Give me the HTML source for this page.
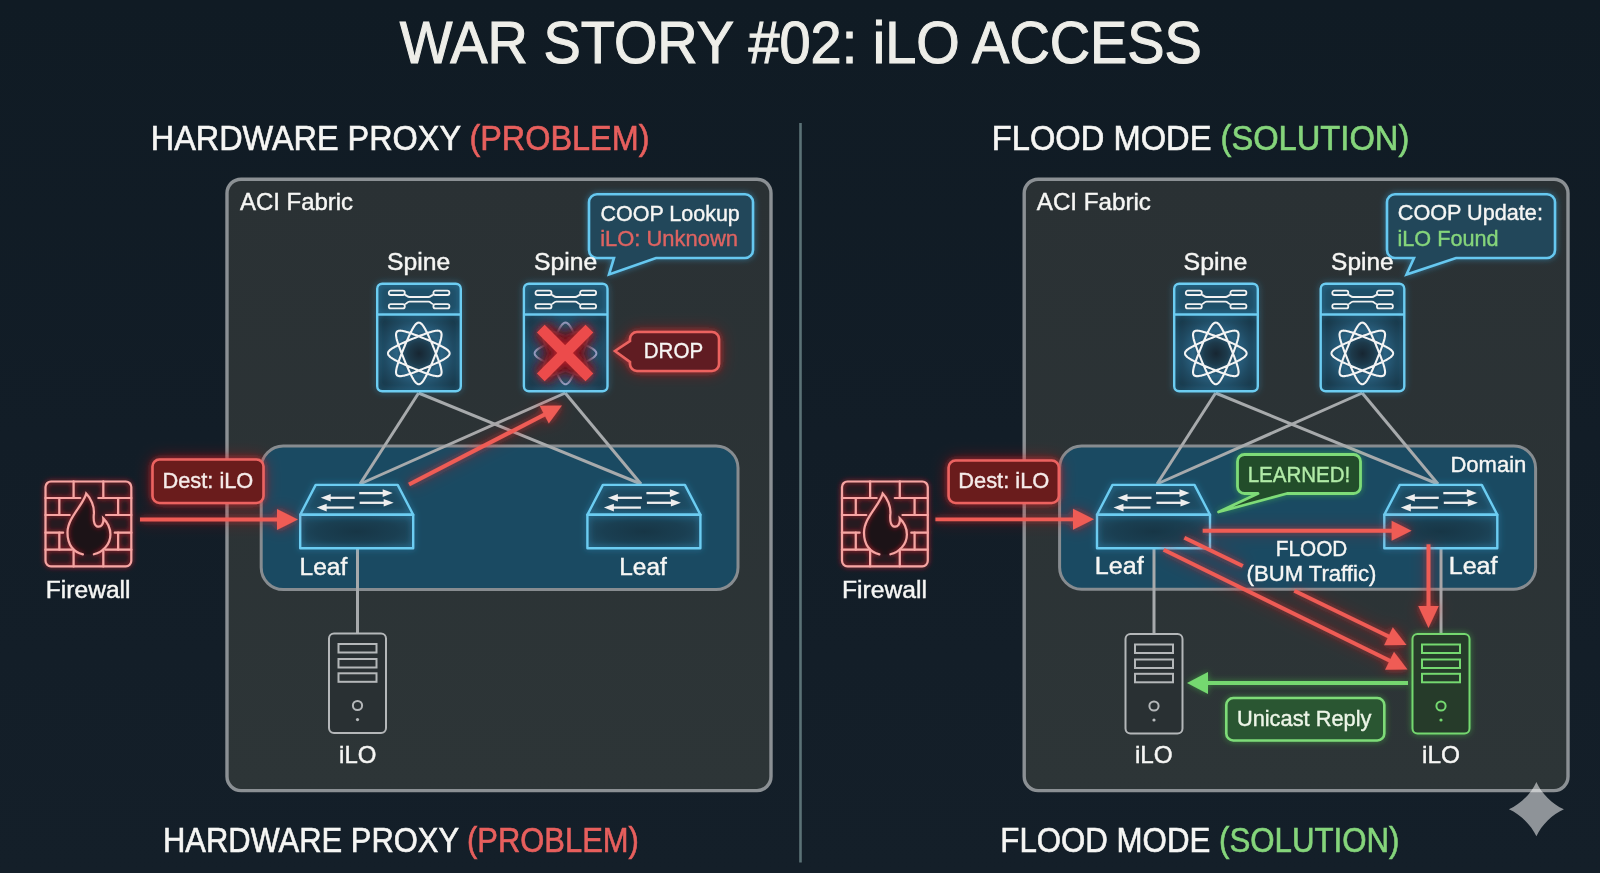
<!DOCTYPE html>
<html><head><meta charset="utf-8">
<style>
html,body{margin:0;padding:0;background:#0f1b24;}
body{width:1600px;height:873px;overflow:hidden;}
svg{display:block;font-family:"Liberation Sans",sans-serif;}
</style></head><body>
<svg width="1600" height="873" viewBox="0 0 1600 873">
<defs>
  <linearGradient id="bg" x1="0" y1="0" x2="0" y2="1">
    <stop offset="0" stop-color="#101b24"/>
    <stop offset="0.5" stop-color="#121d27"/>
    <stop offset="1" stop-color="#141f29"/>
  </linearGradient>
  <linearGradient id="fab" x1="0" y1="0" x2="0" y2="1">
    <stop offset="0" stop-color="#2a3134"/>
    <stop offset="1" stop-color="#2d3537"/>
  </linearGradient>
  <radialGradient id="spineFill" gradientUnits="userSpaceOnUse" cx="43" cy="71" r="50">
    <stop offset="0" stop-color="#172632"/>
    <stop offset="0.22" stop-color="#1d3a4b"/>
    <stop offset="0.45" stop-color="#2a6282"/>
    <stop offset="0.7" stop-color="#1f4a62"/>
    <stop offset="1" stop-color="#173444"/>
  </radialGradient>
  <filter id="glowR" filterUnits="userSpaceOnUse" x="-50" y="-50" width="1700" height="973">
    <feGaussianBlur in="SourceAlpha" stdDeviation="3" result="b"/>
    <feFlood flood-color="#ff2a2a" flood-opacity="0.55"/>
    <feComposite in2="b" operator="in" result="g"/>
    <feGaussianBlur in="SourceAlpha" stdDeviation="8" result="b2"/>
    <feFlood flood-color="#e02030" flood-opacity="0.45"/>
    <feComposite in2="b2" operator="in" result="g2"/>
    <feMerge><feMergeNode in="g2"/><feMergeNode in="g"/><feMergeNode in="SourceGraphic"/></feMerge>
  </filter>
  <filter id="glowR2" filterUnits="userSpaceOnUse" x="-50" y="-50" width="1700" height="973">
    <feGaussianBlur in="SourceAlpha" stdDeviation="2.4" result="b"/>
    <feFlood flood-color="#d0202c" flood-opacity="1"/>
    <feComposite in2="b" operator="in" result="g"/>
    <feMerge><feMergeNode in="g"/><feMergeNode in="SourceGraphic"/></feMerge>
  </filter>
  <filter id="glowC" filterUnits="userSpaceOnUse" x="-50" y="-50" width="1700" height="973">
    <feGaussianBlur in="SourceAlpha" stdDeviation="3" result="b"/>
    <feFlood flood-color="#3ab4f0" flood-opacity="0.5"/>
    <feComposite in2="b" operator="in" result="g"/>
    <feMerge><feMergeNode in="g"/><feMergeNode in="SourceGraphic"/></feMerge>
  </filter>
  <filter id="glowG" filterUnits="userSpaceOnUse" x="-50" y="-50" width="1700" height="973">
    <feGaussianBlur in="SourceAlpha" stdDeviation="3" result="b"/>
    <feFlood flood-color="#4ee04a" flood-opacity="0.45"/>
    <feComposite in2="b" operator="in" result="g"/>
    <feMerge><feMergeNode in="g"/><feMergeNode in="SourceGraphic"/></feMerge>
  </filter>
  <filter id="glowB" filterUnits="userSpaceOnUse" x="-50" y="-50" width="1700" height="973">
    <feGaussianBlur in="SourceGraphic" stdDeviation="3" result="b"/>
    <feMerge><feMergeNode in="b"/><feMergeNode in="SourceGraphic"/></feMerge>
  </filter>
  <radialGradient id="leafFront" cx="50%" cy="50%" r="60%">
    <stop offset="0" stop-color="#173646"/>
    <stop offset="0.6" stop-color="#1a3f52"/>
    <stop offset="1" stop-color="#1f4c63"/>
  </radialGradient>
  <radialGradient id="leafTop" cx="50%" cy="55%" r="60%">
    <stop offset="0" stop-color="#1a4258"/>
    <stop offset="1" stop-color="#1f5068"/>
  </radialGradient>
  <filter id="blur4" filterUnits="userSpaceOnUse" x="-50" y="-50" width="1700" height="973"><feGaussianBlur stdDeviation="4"/></filter>
  <filter id="blur6" filterUnits="userSpaceOnUse" x="-50" y="-50" width="1700" height="973"><feGaussianBlur stdDeviation="6"/></filter>
  <filter id="glowS" filterUnits="userSpaceOnUse" x="-50" y="-50" width="1700" height="973">
    <feGaussianBlur in="SourceGraphic" stdDeviation="2" result="b"/>
    <feMerge><feMergeNode in="b"/><feMergeNode in="SourceGraphic"/></feMerge>
  </filter>

  <!-- Spine: 86x110 -->
  <g id="spineBox">
    <rect x="1.2" y="1.2" width="83.6" height="107.6" rx="5" fill="url(#spineFill)"/>
    <rect x="1.2" y="1.2" width="83.6" height="30" rx="5" fill="#1f4f68"/>
    <g fill="none" stroke="#6ccdf2" stroke-width="2.4" filter="url(#glowC)">
      <rect x="1.2" y="1.2" width="83.6" height="107.6" rx="5"/>
      <path d="M1.2,32 H84.8"/>
    </g>
    <g fill="none" stroke="#f2f2f2" stroke-width="1.8">
      <rect x="12.8" y="8.2" width="16" height="4.3" rx="2"/>
      <rect x="57.4" y="8.2" width="16" height="4.3" rx="2"/>
      <path d="M28.8,12.5 C31,12.5 31,14.5 33.5,14.5 L52.5,14.5 C55,14.5 55,12.5 57.4,12.5"/>
      <rect x="12.8" y="21.6" width="16" height="4.3" rx="2"/>
      <rect x="57.4" y="21.6" width="16" height="4.3" rx="2"/>
      <path d="M28.8,21.6 C31,21.6 31,19.2 33.5,19.2 L52.5,19.2 C55,19.2 55,21.6 57.4,21.6"/>
    </g>
  </g>
  <path id="atom" d="M21.8,-21.8L22.1,-21.3L22.4,-20.8L22.6,-20.2L22.7,-19.5L22.8,-18.7L22.7,-17.8L22.6,-16.8L22.4,-15.8L22.2,-14.7L21.9,-13.5L21.5,-12.2L21.1,-10.9L20.7,-9.5L20.1,-8.0L19.6,-6.5L19.0,-4.9L18.4,-3.3L17.8,-1.6L17.1,0.1L16.4,1.8L15.7,3.5L15.0,5.2L14.3,6.9L13.6,8.7L12.9,10.4L12.1,12.1L11.4,13.7L10.7,15.3L10.0,16.9L9.3,18.4L8.6,19.9L7.9,21.3L7.2,22.6L6.6,23.9L5.9,25.0L5.3,26.1L4.7,27.0L4.1,27.9L3.5,28.7L2.9,29.3L2.3,29.8L1.7,30.3L1.1,30.6L0.6,30.7L0.0,30.8L-0.6,30.7L-1.1,30.6L-1.7,30.3L-2.3,29.8L-2.9,29.3L-3.5,28.7L-4.1,27.9L-4.7,27.0L-5.3,26.1L-5.9,25.0L-6.6,23.9L-7.2,22.6L-7.9,21.3L-8.6,19.9L-9.3,18.4L-10.0,16.9L-10.7,15.3L-11.4,13.7L-12.1,12.1L-12.9,10.4L-13.6,8.7L-14.3,6.9L-15.0,5.2L-15.7,3.5L-16.4,1.8L-17.1,0.1L-17.8,-1.6L-18.4,-3.3L-19.0,-4.9L-19.6,-6.5L-20.1,-8.0L-20.7,-9.5L-21.1,-10.9L-21.5,-12.2L-21.9,-13.5L-22.2,-14.7L-22.4,-15.8L-22.6,-16.8L-22.7,-17.8L-22.8,-18.7L-22.7,-19.5L-22.6,-20.2L-22.4,-20.8L-22.1,-21.3L-21.8,-21.8L-21.3,-22.1L-20.8,-22.4L-20.2,-22.6L-19.5,-22.7L-18.7,-22.8L-17.8,-22.7L-16.8,-22.6L-15.8,-22.4L-14.7,-22.2L-13.5,-21.9L-12.2,-21.5L-10.9,-21.1L-9.5,-20.7L-8.0,-20.1L-6.5,-19.6L-4.9,-19.0L-3.3,-18.4L-1.6,-17.8L0.1,-17.1L1.8,-16.4L3.5,-15.7L5.2,-15.0L6.9,-14.3L8.7,-13.6L10.4,-12.9L12.1,-12.1L13.7,-11.4L15.3,-10.7L16.9,-10.0L18.4,-9.3L19.9,-8.6L21.3,-7.9L22.6,-7.2L23.9,-6.6L25.0,-5.9L26.1,-5.3L27.0,-4.7L27.9,-4.1L28.7,-3.5L29.3,-2.9L29.8,-2.3L30.3,-1.7L30.6,-1.1L30.7,-0.6L30.8,-0.0L30.7,0.6L30.6,1.1L30.3,1.7L29.8,2.3L29.3,2.9L28.7,3.5L27.9,4.1L27.0,4.7L26.1,5.3L25.0,5.9L23.9,6.6L22.6,7.2L21.3,7.9L19.9,8.6L18.4,9.3L16.9,10.0L15.3,10.7L13.7,11.4L12.1,12.1L10.4,12.9L8.7,13.6L6.9,14.3L5.2,15.0L3.5,15.7L1.8,16.4L0.1,17.1L-1.6,17.8L-3.3,18.4L-4.9,19.0L-6.5,19.6L-8.0,20.1L-9.5,20.7L-10.9,21.1L-12.2,21.5L-13.5,21.9L-14.7,22.2L-15.8,22.4L-16.8,22.6L-17.8,22.7L-18.7,22.8L-19.5,22.7L-20.2,22.6L-20.8,22.4L-21.3,22.1L-21.8,21.8L-22.1,21.3L-22.4,20.8L-22.6,20.2L-22.7,19.5L-22.8,18.7L-22.7,17.8L-22.6,16.8L-22.4,15.8L-22.2,14.7L-21.9,13.5L-21.5,12.2L-21.1,10.9L-20.7,9.5L-20.1,8.0L-19.6,6.5L-19.0,4.9L-18.4,3.3L-17.8,1.6L-17.1,-0.1L-16.4,-1.8L-15.7,-3.5L-15.0,-5.2L-14.3,-6.9L-13.6,-8.7L-12.9,-10.4L-12.1,-12.1L-11.4,-13.7L-10.7,-15.3L-10.0,-16.9L-9.3,-18.4L-8.6,-19.9L-7.9,-21.3L-7.2,-22.6L-6.6,-23.9L-5.9,-25.0L-5.3,-26.1L-4.7,-27.0L-4.1,-27.9L-3.5,-28.7L-2.9,-29.3L-2.3,-29.8L-1.7,-30.3L-1.1,-30.6L-0.6,-30.7L0.0,-30.8L0.6,-30.7L1.1,-30.6L1.7,-30.3L2.3,-29.8L2.9,-29.3L3.5,-28.7L4.1,-27.9L4.7,-27.0L5.3,-26.1L5.9,-25.0L6.6,-23.9L7.2,-22.6L7.9,-21.3L8.6,-19.9L9.3,-18.4L10.0,-16.9L10.7,-15.3L11.4,-13.7L12.1,-12.1L12.9,-10.4L13.6,-8.7L14.3,-6.9L15.0,-5.2L15.7,-3.5L16.4,-1.8L17.1,-0.1L17.8,1.6L18.4,3.3L19.0,4.9L19.6,6.5L20.1,8.0L20.7,9.5L21.1,10.9L21.5,12.2L21.9,13.5L22.2,14.7L22.4,15.8L22.6,16.8L22.7,17.8L22.8,18.7L22.7,19.5L22.6,20.2L22.4,20.8L22.1,21.3L21.8,21.8L21.3,22.1L20.8,22.4L20.2,22.6L19.5,22.7L18.7,22.8L17.8,22.7L16.8,22.6L15.8,22.4L14.7,22.2L13.5,21.9L12.2,21.5L10.9,21.1L9.5,20.7L8.0,20.1L6.5,19.6L4.9,19.0L3.3,18.4L1.6,17.8L-0.1,17.1L-1.8,16.4L-3.5,15.7L-5.2,15.0L-6.9,14.3L-8.7,13.6L-10.4,12.9L-12.1,12.1L-13.7,11.4L-15.3,10.7L-16.9,10.0L-18.4,9.3L-19.9,8.6L-21.3,7.9L-22.6,7.2L-23.9,6.6L-25.0,5.9L-26.1,5.3L-27.0,4.7L-27.9,4.1L-28.7,3.5L-29.3,2.9L-29.8,2.3L-30.3,1.7L-30.6,1.1L-30.7,0.6L-30.8,0.0L-30.7,-0.6L-30.6,-1.1L-30.3,-1.7L-29.8,-2.3L-29.3,-2.9L-28.7,-3.5L-27.9,-4.1L-27.0,-4.7L-26.1,-5.3L-25.0,-5.9L-23.9,-6.6L-22.6,-7.2L-21.3,-7.9L-19.9,-8.6L-18.4,-9.3L-16.9,-10.0L-15.3,-10.7L-13.7,-11.4L-12.1,-12.1L-10.4,-12.9L-8.7,-13.6L-6.9,-14.3L-5.2,-15.0L-3.5,-15.7L-1.8,-16.4L-0.1,-17.1L1.6,-17.8L3.3,-18.4L4.9,-19.0L6.5,-19.6L8.0,-20.1L9.5,-20.7L10.9,-21.1L12.2,-21.5L13.5,-21.9L14.7,-22.2L15.8,-22.4L16.8,-22.6L17.8,-22.7L18.7,-22.8L19.5,-22.7L20.2,-22.6L20.8,-22.4L21.3,-22.1Z"/>

  <!-- Leaf: origin at front-left-top corner; width 113 -->
  <g id="leaf">
    <path d="M0,0 L15.5,-29.9 L97.5,-29.9 L113,0 Z" fill="url(#leafTop)"/>
    <rect x="0" y="0" width="113" height="33.5" fill="url(#leafFront)"/>
    <g fill="none" stroke="#6ccdf2" stroke-width="2.4" stroke-linejoin="round" filter="url(#glowC)">
      <path d="M0,0 L15.5,-29.9 L97.5,-29.9 L113,0 Z"/>
      <rect x="0" y="0" width="113" height="33.5"/>
    </g>
    <g stroke="#eeeeee" stroke-width="2.3" fill="#eeeeee">
      <line x1="29" y1="-17" x2="54.5" y2="-17"/>
      <path d="M20.5,-17 L30.5,-20.8 L30.5,-13.2 Z" stroke="none"/>
      <line x1="25" y1="-7.2" x2="53.5" y2="-7.2"/>
      <path d="M16.5,-7.2 L26.5,-11 L26.5,-3.4 Z" stroke="none"/>
      <line x1="59" y1="-21.7" x2="84" y2="-21.7"/>
      <path d="M92.5,-21.7 L82.5,-25.5 L82.5,-17.9 Z" stroke="none"/>
      <line x1="59.5" y1="-12" x2="85" y2="-12"/>
      <path d="M93.5,-12 L83.5,-15.8 L83.5,-8.2 Z" stroke="none"/>
    </g>
  </g>

  <!-- Server: 59 x 101.5 -->
  <g id="serverShape">
    <rect x="1" y="1" width="57" height="99.5" rx="5"/>
    <rect x="10.5" y="11.5" width="38" height="8.5"/>
    <rect x="10.5" y="26.5" width="38" height="8.5"/>
    <rect x="10.5" y="40.8" width="38" height="8.5"/>
    <circle cx="29.5" cy="73" r="4.6"/>
  </g>

  <!-- Firewall: 88 x 87 -->
  <g id="firewallFill">
    <rect x="1.1" y="1.1" width="85.8" height="84.8" rx="5.5" fill="#261a20"/>
  </g>
  <g id="firewallFlameFill">
    <path d="M38.5,73.9 C29,72 23,64 23.1,52 C23.2,41 32,31 37,23 C39.5,19 41.2,16 41.8,13.2 C46.5,18 50,26 49.5,33 C49,38 48.5,44 52.5,46 C57,47.5 59.5,43 58.9,38 C63,42 66,48 66,54 C66,64 58,72 49.5,73.9 Z" fill="#1c1317"/>
  </g>
  <g id="firewall" fill="none" stroke="#f7a4a2" stroke-width="2.2" stroke-linecap="round">
    <rect x="1.1" y="1.1" width="85.8" height="84.8" rx="5.5"/>
    <path d="M1,17.6 H35.8 M53.9,17.6 H87 M1,34.6 H25.3 M61.6,34.6 H87 M1,52.3 H18.7 M70.4,52.3 H87 M1,69.3 H27.5 M61,69.3 H87"/>
    <path d="M29.2,1 V17.6 M58.9,1 V17.6 M14.9,17.6 V34.6 M73.7,17.6 V34.6 M14.9,52.3 V69.3 M73.7,52.3 V69.3 M29.2,69.3 V86 M58.9,69.3 V86"/>
    <path d="M38.5,73.9 C29,72 23,64 23.1,52 C23.2,41 32,31 37,23 C39.5,19 41.2,16 41.8,13.2 C46.5,18 50,26 49.5,33 C49,38 48.5,44 52.5,46 C57,47.5 59.5,43 58.9,38 C63,42 66,48 66,54 C66,64 58,72 49.5,73.9"/>
  </g>
</defs>

<rect width="1600" height="873" fill="url(#bg)"/>

<!-- Title -->

<!-- Section headings -->

<!-- divider -->
<line x1="800.5" y1="123" x2="800.5" y2="862.5" stroke="#5b7276" stroke-width="2.6"/>

<!-- ===================== LEFT PANEL ===================== -->
<g id="leftPanel">
  <rect x="227" y="179.2" width="544" height="611.4" rx="14" fill="url(#fab)" stroke="#8b9094" stroke-width="3.4"/>

  <!-- domain -->
  <rect x="261.2" y="446" width="476.8" height="143.6" rx="22" fill="#1a4a62" stroke="#878c90" stroke-width="3"/>

  <!-- spine-leaf lines -->
  <g stroke="#a7aaac" stroke-width="3" fill="none">
    <line x1="418.6" y1="393" x2="360" y2="484"/>
    <line x1="418.6" y1="393" x2="641" y2="484"/>
    <line x1="565.2" y1="393" x2="360" y2="484"/>
    <line x1="565.2" y1="393" x2="641" y2="484"/>
    <line x1="357.5" y1="548.5" x2="357.5" y2="633"/>
  </g>

  <!-- spines -->
  <use href="#spineBox" x="376" y="282.5"/>
  <use href="#atom" x="418.8" y="353.4" fill="none" stroke="#f4f4f4" stroke-width="2.1"/>
  <use href="#spineBox" x="522.7" y="282.5"/>
  <g transform="translate(565.5,353.4)" opacity="0.8">
    <use href="#atom" fill="none" stroke="#b9c2e8" stroke-width="2.1"/>
  </g>

  <!-- big red X -->
  <g transform="translate(565.1,353)">
    <circle r="24" fill="#3b1a26" opacity="0.9" filter="url(#blur6)"/>
    <path d="M-24,-24 L24,24 M24,-24 L-24,24" stroke="#5a1420" stroke-width="22" filter="url(#blur4)" opacity="0.9"/>
    <path d="M-24.3,-24.3 L24.3,24.3 M24.3,-24.3 L-24.3,24.3" stroke="#ec4c4b" stroke-width="11" stroke-linecap="butt" filter="url(#glowR)"/>
  </g>

  <!-- leafs -->
  <use href="#leaf" x="300.2" y="514.8"/>
  <use href="#leaf" x="587.4" y="514.8"/>

  <!-- server -->
  <use href="#serverShape" x="328" y="632.5" fill="#293033" stroke="#b4b7b9" stroke-width="2"/>
  <circle cx="357.5" cy="719.6" r="1.6" fill="#b8bbbd"/>

  <!-- COOP bubble -->
  <path d="M597,194.3 H745 A8,8 0 0 1 753,202.3 V250 A8,8 0 0 1 745,258 H656 L609,274.5 L614,258 H597 A8,8 0 0 1 589,250 V202.3 A8,8 0 0 1 597,194.3 Z" fill="#23465a" stroke="#66c8f0" stroke-width="2.6" filter="url(#glowC)"/>

  <!-- DROP bubble -->
  <path d="M637,332 H712 A7,7 0 0 1 719,339 V364 A7,7 0 0 1 712,371 H637 A7,7 0 0 1 630,364 V362 L615,351 L630,341 V339 A7,7 0 0 1 637,332 Z" fill="#611b20" stroke="#ec6461" stroke-width="2.6" filter="url(#glowR)"/>

  <!-- red diagonal arrow -->
  <g filter="url(#glowR)">
    <path d="M409.0,484.5 L545.6,414.0" stroke="#ef5b55" stroke-width="4.2" stroke-linecap="butt" fill="none"/>
    <path d="M562.0,405.5 L548.8,423.6 L539.6,405.8 Z" fill="#ef5b55"/>
  </g>

  <!-- firewall -->
  <use href="#firewallFill" x="44.4" y="480.4"/>
  <use href="#firewallFlameFill" x="44.4" y="480.4"/>
  <use href="#firewall" x="44.4" y="480.4" filter="url(#glowR2)"/>

  <!-- Dest label -->
  <rect x="152.5" y="459.5" width="111" height="43.5" rx="7" fill="#6a1a1f" stroke="#ec6461" stroke-width="2.6" filter="url(#glowR)"/>

  <!-- red arrow -->
  <g filter="url(#glowR)">
    <path d="M140.0,519.5 L278.5,519.5" stroke="#ef5b55" stroke-width="3.8" stroke-linecap="butt" fill="none"/>
    <path d="M298.0,519.5 L277.0,530.0 L277.0,509.0 Z" fill="#ef5b55"/>
  </g>
</g>

<!-- ===================== RIGHT PANEL ===================== -->
<g id="rightPanel">
  <rect x="1024.2" y="179.2" width="543.8" height="611.4" rx="14" fill="url(#fab)" stroke="#8b9094" stroke-width="3.4"/>

  <rect x="1059.6" y="446" width="476" height="143.2" rx="22" fill="#1a4a62" stroke="#878c90" stroke-width="3"/>

  <g stroke="#a7aaac" stroke-width="3" fill="none">
    <line x1="1215.6" y1="393" x2="1157" y2="484"/>
    <line x1="1215.6" y1="393" x2="1438" y2="484"/>
    <line x1="1362.2" y1="393" x2="1157" y2="484"/>
    <line x1="1362.2" y1="393" x2="1438" y2="484"/>
    <line x1="1154" y1="548.5" x2="1154" y2="633"/>
    <line x1="1441" y1="548.5" x2="1441" y2="633"/>
  </g>

  <use href="#spineBox" x="1173" y="282.5"/>
  <use href="#atom" x="1215.8" y="353.4" fill="none" stroke="#f4f4f4" stroke-width="2.1"/>
  <use href="#spineBox" x="1319.5" y="282.5"/>
  <use href="#atom" x="1362.3" y="353.4" fill="none" stroke="#f4f4f4" stroke-width="2.1"/>

  <use href="#leaf" x="1097" y="514.8"/>
  <use href="#leaf" x="1384.3" y="514.8"/>

  <!-- servers -->
  <use href="#serverShape" x="1124.5" y="633" fill="#293033" stroke="#b4b7b9" stroke-width="2"/>
  <circle cx="1154" cy="720" r="1.6" fill="#b8bbbd"/>
  <g filter="url(#glowG)">
    <use href="#serverShape" x="1411.5" y="633" fill="#253a2b" stroke="#74d86f" stroke-width="2"/>
  </g>
  <circle cx="1441" cy="720" r="1.6" fill="#74d86f"/>

  <!-- COOP Update bubble -->
  <path d="M1395,194.3 H1547 A8,8 0 0 1 1555,202.3 V250 A8,8 0 0 1 1547,258 H1456 L1406.5,274.5 L1414,258 H1395 A8,8 0 0 1 1387,250 V202.3 A8,8 0 0 1 1395,194.3 Z" fill="#23465a" stroke="#66c8f0" stroke-width="2.6" filter="url(#glowC)"/>

  <!-- LEARNED bubble -->
  <path d="M1244.5,454.5 H1353.5 A7,7 0 0 1 1360.5,461.5 V486.5 A7,7 0 0 1 1353.5,493.5 H1287 L1218.5,512 L1258,493.5 H1244.5 A7,7 0 0 1 1237.5,486.5 V461.5 A7,7 0 0 1 1244.5,454.5 Z" fill="#224e2c" stroke="#7edc78" stroke-width="2.8" stroke-linejoin="round" filter="url(#glowG)"/>

  <!-- flood arrows -->
  <g filter="url(#glowR)">
    <path d="M1202.7,530.8 L1393.1,530.7" stroke="#ef5b55" stroke-width="4.0" stroke-linecap="butt" fill="none"/>
    <path d="M1411.6,530.7 L1391.6,540.7 L1391.6,520.7 Z" fill="#ef5b55"/>
    <path d="M1184.4,537.8 L1242.8,566.0" stroke="#ef5b55" stroke-width="4.0" stroke-linecap="butt" fill="none"/>
    <path d="M1294.3,590.8 L1389.8,637.0" stroke="#ef5b55" stroke-width="4.0" stroke-linecap="butt" fill="none"/>
    <path d="M1406.5,645.0 L1384.1,645.3 L1392.8,627.3 Z" fill="#ef5b55"/>
    <path d="M1163.7,549.8 L1390.9,661.3" stroke="#ef5b55" stroke-width="4.0" stroke-linecap="butt" fill="none"/>
    <path d="M1407.5,669.5 L1385.1,669.7 L1394.0,651.7 Z" fill="#ef5b55"/>
    <path d="M1428.5,544.3 L1428.5,607.5" stroke="#ef5b55" stroke-width="4.0" stroke-linecap="butt" fill="none"/>
    <path d="M1428.5,628.0 L1418.2,606.0 L1438.8,606.0 Z" fill="#ef5b55"/>
  </g>
  <!-- FLOOD label -->

  <!-- green arrow -->
  <g filter="url(#glowG)" fill="#74d86f">
    <path d="M1408.0,683.0 L1206.5,683.0" stroke="#74d86f" stroke-width="4.0" stroke-linecap="butt" fill="none"/>
    <path d="M1187.0,683.0 L1208.0,672.0 L1208.0,694.0 Z" fill="#74d86f"/>
  </g>
  <!-- unicast label -->
  <rect x="1226.3" y="698" width="158" height="42.5" rx="7" fill="#2a5731" stroke="#7edc78" stroke-width="2.6" filter="url(#glowG)"/>

  <!-- firewall -->
  <use href="#firewallFill" x="840.9" y="480.4"/>
  <use href="#firewallFlameFill" x="840.9" y="480.4"/>
  <use href="#firewall" x="840.9" y="480.4" filter="url(#glowR2)"/>

  <rect x="948.6" y="460.5" width="110.2" height="42.5" rx="7" fill="#6a1a1f" stroke="#ec6461" stroke-width="2.6" filter="url(#glowR)"/>

  <g filter="url(#glowR)">
    <path d="M935.4,519.3 L1074.5,519.3" stroke="#ef5b55" stroke-width="3.8" stroke-linecap="butt" fill="none"/>
    <path d="M1094.0,519.3 L1073.0,529.8 L1073.0,508.8 Z" fill="#ef5b55"/>
  </g>
</g>

<g id="texts" opacity="0.995">
<text x="399.7" y="62.9" font-size="59.45" fill="#efefea" stroke="#efefea" stroke-width="1.07" textLength="802.2" lengthAdjust="spacingAndGlyphs">WAR STORY #02: iLO ACCESS</text>
<text x="150.8" y="149.5" font-size="35.61" fill="#f7f7f5" stroke="#f7f7f5" stroke-width="0.64" textLength="498.7" lengthAdjust="spacingAndGlyphs"><tspan fill="#f7f7f5" stroke="#f7f7f5">HARDWARE PROXY </tspan><tspan fill="#e8605e" stroke="#e8605e">(PROBLEM)</tspan></text>
<text x="991.8" y="149.7" font-size="35.90" fill="#f7f7f5" stroke="#f7f7f5" stroke-width="0.65" textLength="417.5" lengthAdjust="spacingAndGlyphs"><tspan fill="#f7f7f5" stroke="#f7f7f5">FLOOD MODE </tspan><tspan fill="#86d67c" stroke="#86d67c">(SOLUTION)</tspan></text>
<text x="163.0" y="851.9" font-size="34.88" fill="#f7f7f5" stroke="#f7f7f5" stroke-width="0.63" textLength="475.8" lengthAdjust="spacingAndGlyphs"><tspan fill="#f7f7f5" stroke="#f7f7f5">HARDWARE PROXY </tspan><tspan fill="#e8605e" stroke="#e8605e">(PROBLEM)</tspan></text>
<text x="1000.3" y="851.6" font-size="34.30" fill="#f7f7f5" stroke="#f7f7f5" stroke-width="0.62" textLength="399.2" lengthAdjust="spacingAndGlyphs"><tspan fill="#f7f7f5" stroke="#f7f7f5">FLOOD MODE </tspan><tspan fill="#86d67c" stroke="#86d67c">(SOLUTION)</tspan></text>
<text x="239.9" y="210.0" font-size="24.71" fill="#f7f7f5" stroke="#f7f7f5" stroke-width="0.44" textLength="113.2" lengthAdjust="spacingAndGlyphs">ACI Fabric</text>
<text x="1036.8" y="210.0" font-size="24.71" fill="#f7f7f5" stroke="#f7f7f5" stroke-width="0.44" textLength="114.1" lengthAdjust="spacingAndGlyphs">ACI Fabric</text>
<text x="600.5" y="220.6" font-size="22.38" fill="#f7f7f5" stroke="#f7f7f5" stroke-width="0.40" textLength="139.3" lengthAdjust="spacingAndGlyphs">COOP Lookup</text>
<text x="600.2" y="245.9" font-size="21.80" fill="#df6462" stroke="#df6462" stroke-width="0.39" textLength="137.8" lengthAdjust="spacingAndGlyphs">iLO: Unknown</text>
<text x="1397.8" y="219.9" font-size="21.80" fill="#f7f7f5" stroke="#f7f7f5" stroke-width="0.39" textLength="145.1" lengthAdjust="spacingAndGlyphs">COOP Update:</text>
<text x="1397.5" y="246.0" font-size="21.80" fill="#86d67c" stroke="#86d67c" stroke-width="0.39" textLength="101.1" lengthAdjust="spacingAndGlyphs">iLO Found</text>
<text x="387.1" y="270.2" font-size="24.42" fill="#f7f7f5" stroke="#f7f7f5" stroke-width="0.44" textLength="63.2" lengthAdjust="spacingAndGlyphs">Spine</text>
<text x="534.1" y="270.2" font-size="24.42" fill="#f7f7f5" stroke="#f7f7f5" stroke-width="0.44" textLength="63.2" lengthAdjust="spacingAndGlyphs">Spine</text>
<text x="1183.6" y="270.2" font-size="24.42" fill="#f7f7f5" stroke="#f7f7f5" stroke-width="0.44" textLength="63.7" lengthAdjust="spacingAndGlyphs">Spine</text>
<text x="1331.1" y="270.2" font-size="24.42" fill="#f7f7f5" stroke="#f7f7f5" stroke-width="0.44" textLength="62.5" lengthAdjust="spacingAndGlyphs">Spine</text>
<text x="643.8" y="358.0" font-size="21.80" fill="#f7f7f5" stroke="#f7f7f5" stroke-width="0.39" textLength="59.3" lengthAdjust="spacingAndGlyphs">DROP</text>
<text x="299.6" y="574.8" font-size="24.56" fill="#f7f7f5" stroke="#f7f7f5" stroke-width="0.44" textLength="47.7" lengthAdjust="spacingAndGlyphs">Leaf</text>
<text x="619.3" y="574.7" font-size="24.56" fill="#f7f7f5" stroke="#f7f7f5" stroke-width="0.44" textLength="47.5" lengthAdjust="spacingAndGlyphs">Leaf</text>
<text x="1094.8" y="574.0" font-size="24.56" fill="#f7f7f5" stroke="#f7f7f5" stroke-width="0.44" textLength="48.8" lengthAdjust="spacingAndGlyphs">Leaf</text>
<text x="1448.7" y="574.3" font-size="24.56" fill="#f7f7f5" stroke="#f7f7f5" stroke-width="0.44" textLength="48.8" lengthAdjust="spacingAndGlyphs">Leaf</text>
<text x="162.5" y="488.1" font-size="22.97" fill="#f6ecea" stroke="#f6ecea" stroke-width="0.41" textLength="90.8" lengthAdjust="spacingAndGlyphs">Dest: iLO</text>
<text x="958.2" y="488.1" font-size="22.97" fill="#f6ecea" stroke="#f6ecea" stroke-width="0.41" textLength="91.1" lengthAdjust="spacingAndGlyphs">Dest: iLO</text>
<text x="45.8" y="597.5" font-size="23.62" fill="#f7f7f5" stroke="#f7f7f5" stroke-width="0.43" textLength="84.7" lengthAdjust="spacingAndGlyphs">Firewall</text>
<text x="842.0" y="597.5" font-size="23.62" fill="#f7f7f5" stroke="#f7f7f5" stroke-width="0.43" textLength="85.0" lengthAdjust="spacingAndGlyphs">Firewall</text>
<text x="339.1" y="762.7" font-size="24.27" fill="#f7f7f5" stroke="#f7f7f5" stroke-width="0.44" textLength="37.3" lengthAdjust="spacingAndGlyphs">iLO</text>
<text x="1134.9" y="762.7" font-size="24.27" fill="#f7f7f5" stroke="#f7f7f5" stroke-width="0.44" textLength="37.8" lengthAdjust="spacingAndGlyphs">iLO</text>
<text x="1422.0" y="762.7" font-size="24.27" fill="#f7f7f5" stroke="#f7f7f5" stroke-width="0.44" textLength="38.0" lengthAdjust="spacingAndGlyphs">iLO</text>
<text x="1247.7" y="481.6" font-size="22.67" fill="#b2eca8" stroke="#b2eca8" stroke-width="0.41" textLength="102.6" lengthAdjust="spacingAndGlyphs">LEARNED!</text>
<text x="1450.4" y="471.9" font-size="22.67" fill="#f7f7f5" stroke="#f7f7f5" stroke-width="0.41" textLength="76.0" lengthAdjust="spacingAndGlyphs">Domain</text>
<text x="1275.8" y="556.2" font-size="22.46" fill="#f7f7f5" stroke="#f7f7f5" stroke-width="0.40" textLength="71.5" lengthAdjust="spacingAndGlyphs">FLOOD</text>
<text x="1246.6" y="581.1" font-size="22.53" fill="#f7f7f5" stroke="#f7f7f5" stroke-width="0.41" textLength="129.7" lengthAdjust="spacingAndGlyphs">(BUM Traffic)</text>
<text x="1236.9" y="725.8" font-size="22.38" fill="#eef6e8" stroke="#eef6e8" stroke-width="0.40" textLength="134.5" lengthAdjust="spacingAndGlyphs">Unicast Reply</text>
</g>
<!-- gemini star -->
<path d="M1536.4,781.9 C1541.4,793.3 1552.4,804.3 1563.9,809.3 C1552.4,814.3 1541.4,825.3 1536.4,836.3 C1531.4,825.3 1520.4,814.3 1508.9,809.3 C1520.4,804.3 1531.4,793.3 1536.4,781.9 Z" fill="#ffffff" opacity="0.52"/>
</svg>
</body></html>
